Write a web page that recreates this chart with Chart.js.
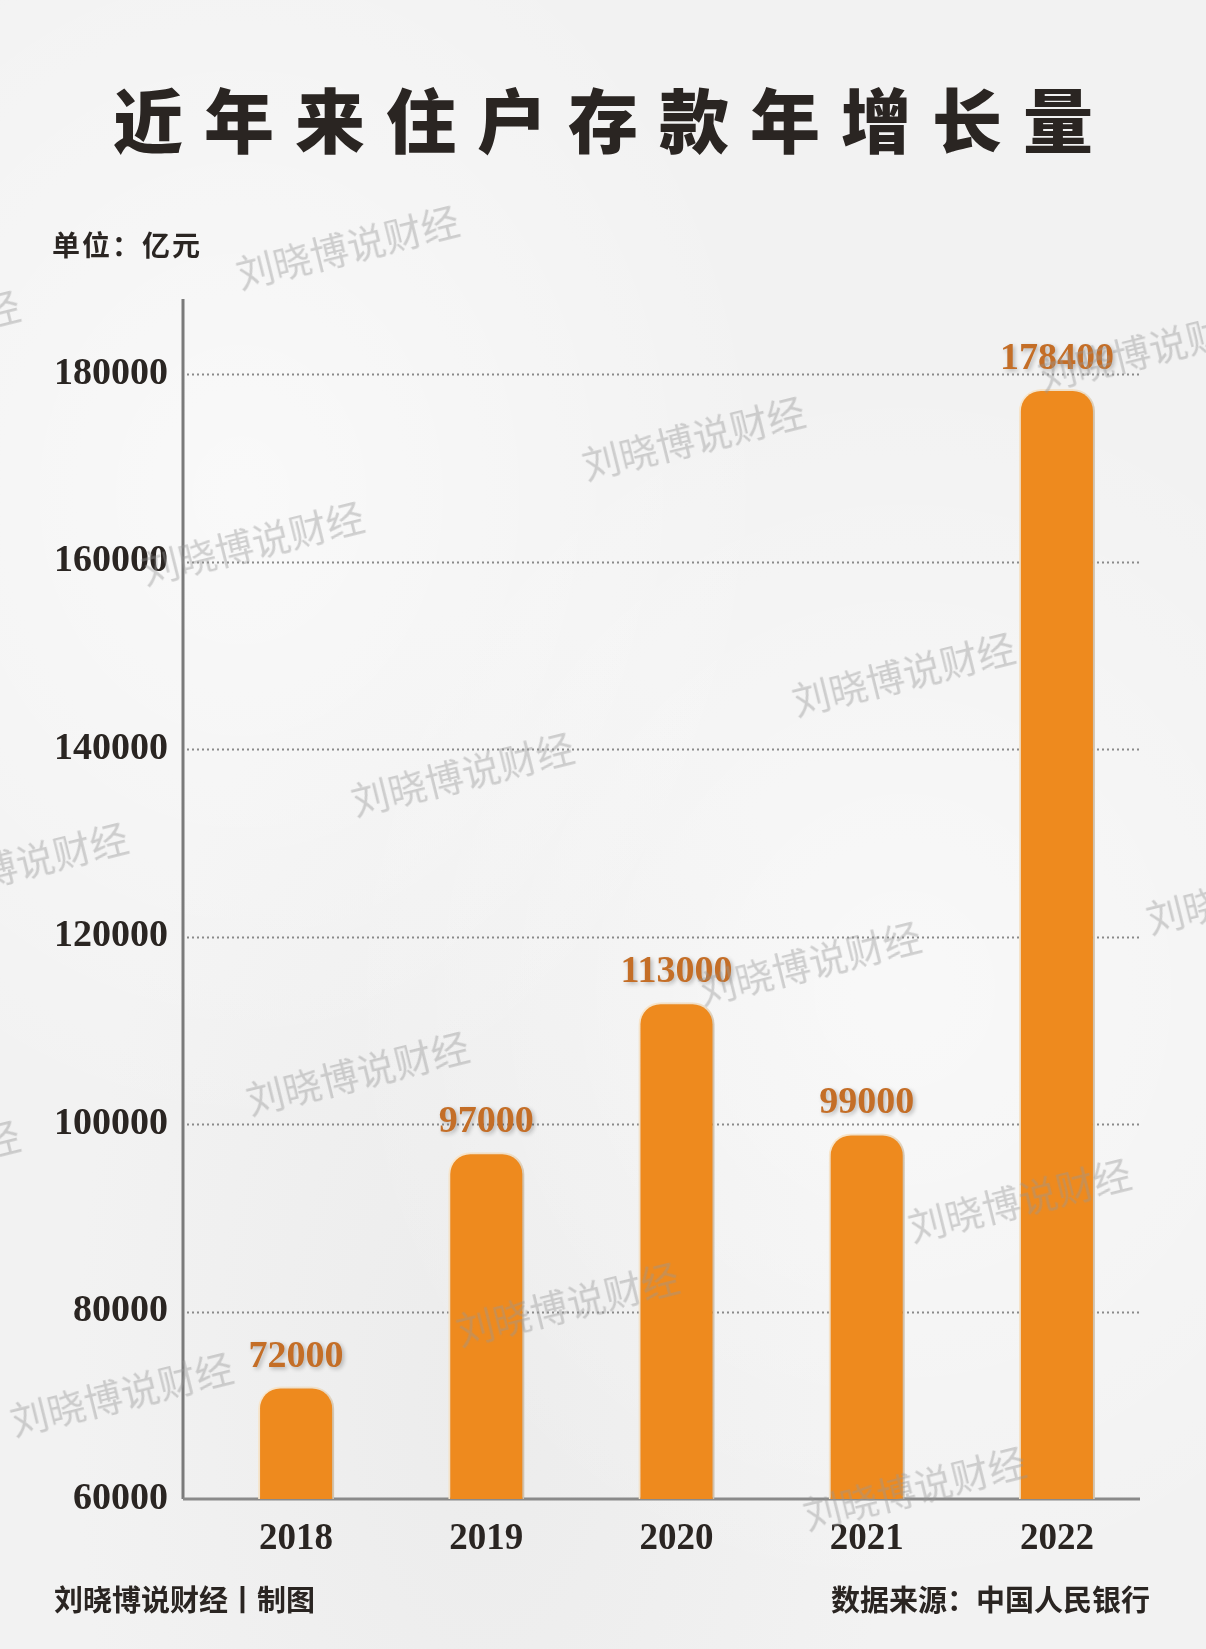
<!DOCTYPE html>
<html>
<head>
<meta charset="utf-8">
<script src="https://cdn.jsdelivr.net/npm/chart.js@4.4.1/dist/chart.umd.min.js"></script>
<style>
  html, body { margin: 0; padding: 0; }
  body { width: 1206px; height: 1649px; overflow: hidden; }
  #wrap {
    position: relative; width: 1206px; height: 1649px;
    background: #f2f2f2;
    background-image:
      radial-gradient(ellipse at 20% 30%, rgba(255,255,255,0.55), rgba(255,255,255,0) 40%),
      radial-gradient(ellipse at 75% 60%, rgba(255,255,255,0.5), rgba(255,255,255,0) 45%),
      radial-gradient(ellipse at 40% 85%, rgba(230,230,230,0.5), rgba(230,230,230,0) 40%);
  }
  #c { position: absolute; left: 0; top: 0; }
  .txt { position: absolute; font-family: "Noto Sans CJK SC", sans-serif; color: #2a2522; white-space: nowrap; }
  #title { left: 0; width: 1206px; text-align: center; top: 78px; font-size: 70px; font-weight: 900; letter-spacing: 21px; text-indent: 21px; line-height: 80px; }
  #unit { left: 52px; top: 226px; font-size: 28px; font-weight: 700; letter-spacing: 2px; line-height: 36px; }
  #foot1 { left: 54px; top: 1580px; font-size: 29px; font-weight: 700; line-height: 36px; }
  #foot2 { right: 56px; top: 1580px; font-size: 29px; font-weight: 700; line-height: 36px; }
  .wm { position: absolute; font-family: "Noto Sans CJK SC", sans-serif; font-size: 38px; font-weight: 400;
        color: rgba(150,150,150,0.42); white-space: nowrap; transform: translate(-50%,-50%) rotate(-14deg); pointer-events: none; }
</style>
</head>
<body>
<div id="wrap">
  <canvas id="c" width="1206" height="1649"></canvas>
  <div class="txt" id="title">近年来住户存款年增长量</div>
  <div class="txt" id="unit">单位：亿元</div>
  <div class="txt" id="foot1">刘晓博说财经丨制图</div>
  <div class="txt" id="foot2">数据来源：中国人民银行</div>
  <div id="wms"></div>
</div>
<script>
// ---- data ----
const years = ['2018', '2019', '2020', '2021', '2022'];
const growth = [72000, 97000, 113000, 99000, 178400];
const valueLabels = ['72000', '97000', '113000', '99000', '178400'];
const yTicks = [60000, 80000, 100000, 120000, 140000, 160000, 180000];
const watermarkText = '刘晓博说财经';

// ---- watermarks (decorative) ----
const wmSpots = [[347,245],[693,436],[252,541],[903,672],[462,772],[809,961],[357,1071],[1019,1198],[567,1302],[121,1392],[914,1486],[1149,347],[1257,890],[16,862],[-92,330],[-92,1160]];
const wms = document.getElementById('wms');
wmSpots.forEach(([x,y]) => {
  const d = document.createElement('div');
  d.className = 'wm'; d.textContent = watermarkText;
  d.style.left = x + 'px'; d.style.top = y + 'px';
  wms.appendChild(d);
});

const serif = '"Liberation Serif", "DejaVu Serif", serif';
const AXIS_X = 183, GRID_RIGHT = 1140;

const decor = {
  id: 'decor',
  beforeDatasetsDraw(chart) {
    const ctx = chart.ctx, y = chart.scales.y, area = chart.chartArea;
    ctx.save();
    ctx.strokeStyle = '#8a8a8a'; ctx.lineWidth = 2; ctx.setLineDash([2, 3]);
    yTicks.forEach(v => {
      if (v === yTicks[0]) return;
      const py = Math.round(y.getPixelForValue(v)) + 0.5;
      ctx.beginPath(); ctx.moveTo(AXIS_X + 4, py); ctx.lineTo(GRID_RIGHT, py); ctx.stroke();
    });
    ctx.setLineDash([]);
    ctx.strokeStyle = '#7a7a7a'; ctx.lineWidth = 3;
    ctx.beginPath(); ctx.moveTo(AXIS_X, area.top); ctx.lineTo(AXIS_X, area.bottom); ctx.stroke();
    ctx.strokeStyle = '#8a8a8a'; ctx.lineWidth = 3;
    const by = y.getPixelForValue(yTicks[0]);
    ctx.beginPath(); ctx.moveTo(AXIS_X, by); ctx.lineTo(GRID_RIGHT, by); ctx.stroke();
    ctx.restore();
    ctx.save();
    ctx.shadowColor = 'rgba(0,0,0,0.22)'; ctx.shadowBlur = 12; ctx.shadowOffsetX = 5; ctx.shadowOffsetY = 4;
  },
  afterDatasetsDraw(chart) {
    const ctx = chart.ctx;
    ctx.restore();
    const meta = chart.getDatasetMeta(0);
    ctx.save();
    ctx.font = 'bold 38px ' + serif;
    ctx.fillStyle = '#C46E27';
    ctx.textAlign = 'center'; ctx.textBaseline = 'alphabetic';
    ctx.shadowColor = 'rgba(0,0,0,0.25)'; ctx.shadowBlur = 4; ctx.shadowOffsetX = 2; ctx.shadowOffsetY = 2;
    meta.data.forEach((bar, i) => {
      ctx.fillText(valueLabels[i], bar.x, bar.y - 20);
    });
    ctx.restore();
  }
};

new Chart(document.getElementById('c'), {
  type: 'bar',
  data: {
    labels: years,
    datasets: [{
      data: growth,
      backgroundColor: '#EE8A1E',
      borderColor: '#FCEAD0',
      borderWidth: 2,
      borderRadius: 22,
      borderSkipped: false,
      barPercentage: 0.8,
      categoryPercentage: 0.5
    }]
  },
  options: {
    responsive: false,
    animation: false,
    devicePixelRatio: 1,
    layout: { padding: { left: 0, right: 54, top: 299, bottom: 0 } },
    plugins: { legend: { display: false }, tooltip: { enabled: false } },
    scales: {
      x: {
        grid: { display: false, drawTicks: false },
        border: { display: false },
        ticks: { color: '#2a2522', font: { family: serif, size: 37, weight: 'bold' }, padding: 18 },
        afterFit(scale) { scale.height = 150; }
      },
      y: {
        min: 60000, max: 188000,
        grid: { display: false, drawTicks: false },
        border: { display: false },
        ticks: {
          stepSize: 20000, color: '#2a2522', font: { family: serif, size: 38, weight: 'bold' }, padding: 33,
          callback: (v) => String(v)
        },
        afterBuildTicks(scale) { scale.ticks = yTicks.map(v => ({ value: v })); },
        afterFit(scale) { scale.width = 201; }
      }
    }
  },
  plugins: [decor]
});
</script>
</body>
</html>
